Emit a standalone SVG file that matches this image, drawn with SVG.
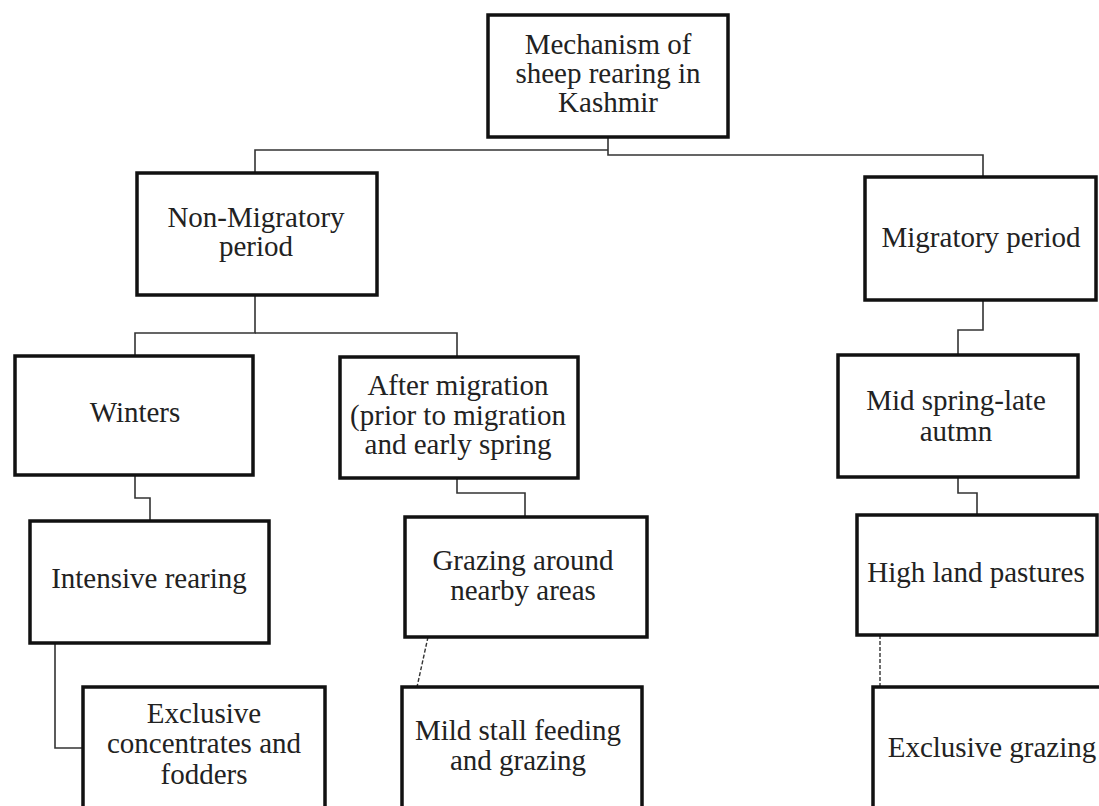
<svg xmlns="http://www.w3.org/2000/svg" width="1099" height="806" viewBox="0 0 1099 806">
<style>
.box{fill:#fff;stroke:#111;stroke-width:3.5}
.t{font-family:"Liberation Serif","Times New Roman",serif;font-size:29px;fill:#222;text-anchor:middle}
.c{fill:none;stroke:#333;stroke-width:1.6}
.d{fill:none;stroke:#333;stroke-width:1.4;stroke-dasharray:4 2}
</style>
<rect width="1099" height="806" fill="#fff"/>
<g id="connectors">
<polyline class="c" points="608,137 608,155 983,155 983,177"/>
<polyline class="c" points="608,150 255,150 255,173"/>
<polyline class="c" points="255,295 255,333 135,333 135,356"/>
<polyline class="c" points="255,333 457,333 457,357"/>
<polyline class="c" points="983,300 983,330 958,330 958,355"/>
<polyline class="c" points="135,475 135,498 150,498 150,521"/>
<polyline class="c" points="457,478 457,493 525,493 525,517"/>
<polyline class="c" points="958,477 958,493 977,493 977,515"/>
<polyline class="c" points="55,643 55,748 83,748"/>
<line class="d" x1="428" y1="637" x2="417" y2="687"/>
<line class="d" x1="880" y1="635" x2="880" y2="687"/>
</g>
<g id="n-root">
<rect class="box" x="488" y="15" width="240" height="122"/>
<text class="t" x="608" y="54">Mechanism of</text>
<text class="t" x="608" y="83">sheep rearing in</text>
<text class="t" x="608" y="112">Kashmir</text>
</g>
<g id="n-nonmig">
<rect class="box" x="137" y="173" width="240" height="122"/>
<text class="t" x="256" y="227">Non-Migratory</text>
<text class="t" x="256" y="256">period</text>
</g>
<g id="n-mig">
<rect class="box" x="865" y="177" width="231" height="123"/>
<text class="t" x="981" y="247">Migratory period</text>
</g>
<g id="n-winters">
<rect class="box" x="15" y="356" width="238" height="119"/>
<text class="t" x="135" y="422">Winters</text>
</g>
<g id="n-after">
<rect class="box" x="340" y="357" width="238" height="121"/>
<text class="t" x="458" y="395">After migration</text>
<text class="t" x="458" y="425">(prior to migration</text>
<text class="t" x="458" y="454">and early spring</text>
</g>
<g id="n-midspring">
<rect class="box" x="838" y="355" width="240" height="122"/>
<text class="t" x="956" y="410">Mid spring-late</text>
<text class="t" x="956" y="441">autmn</text>
</g>
<g id="n-intensive">
<rect class="box" x="30" y="521" width="239" height="122"/>
<text class="t" x="149" y="588">Intensive rearing</text>
</g>
<g id="n-grazing">
<rect class="box" x="405" y="517" width="242" height="120"/>
<text class="t" x="523" y="570">Grazing  around</text>
<text class="t" x="523" y="600">nearby areas</text>
</g>
<g id="n-highland">
<rect class="box" x="857" y="515" width="240" height="120"/>
<text class="t" x="976" y="582">High land pastures</text>
</g>
<g id="n-exconc">
<rect class="box" x="83" y="687" width="242" height="122"/>
<text class="t" x="204" y="723">Exclusive</text>
<text class="t" x="204" y="753">concentrates and</text>
<text class="t" x="204" y="784">fodders</text>
</g>
<g id="n-mild">
<rect class="box" x="402" y="687" width="240" height="122"/>
<text class="t" x="518" y="740">Mild  stall feeding</text>
<text class="t" x="518" y="770">and grazing</text>
</g>
<g id="n-exgraz">
<rect class="box" x="873" y="687" width="232" height="122"/>
<text class="t" x="992" y="757">Exclusive  grazing</text>
</g>
</svg>
